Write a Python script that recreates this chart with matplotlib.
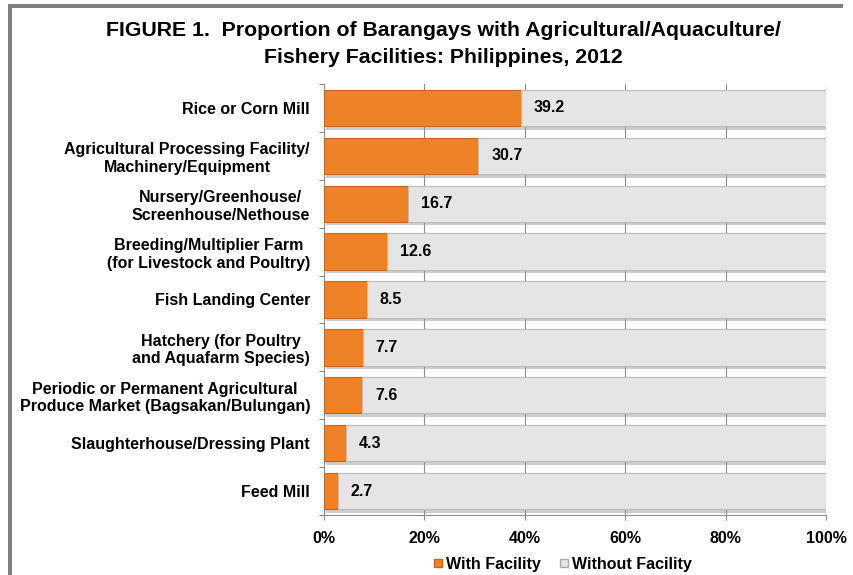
import numpy as np
import matplotlib
matplotlib.use('Agg')
import matplotlib.pyplot as plt
import matplotlib.patheffects as pe
from matplotlib.patches import Rectangle
from matplotlib.lines import Line2D

plt.rcParams['font.family'] = ['Liberation Sans', 'DejaVu Sans']
plt.rcParams['font.weight'] = 'bold'

categories = [
    'Rice or Corn Mill',
    'Agricultural Processing Facility/\nMachinery/Equipment',
    'Nursery/Greenhouse/\nScreenhouse/Nethouse',
    'Breeding/Multiplier Farm\n(for Livestock and Poultry)',
    'Fish Landing Center',
    'Hatchery (for Poultry\nand Aquafarm Species)',
    'Periodic or Permanent Agricultural\nProduce Market (Bagsakan/Bulungan)',
    'Slaughterhouse/Dressing Plant',
    'Feed Mill',
]
with_facility = [39.2, 30.7, 16.7, 12.6, 8.5, 7.7, 7.6, 4.3, 2.7]
without_facility = [100 - v for v in with_facility]
xticks = [0, 20, 40, 60, 80, 100]

orange = '#EE8226'
grey = '#E5E5E5'

fig = plt.figure(figsize=(8.54, 5.75), dpi=100)
W, H = 854, 575
ax = fig.add_axes([324 / W, 1 - 515 / H, 502 / W, 431 / H])

y = np.arange(len(categories))
shadow = [pe.SimplePatchShadow(offset=(1.5, -2.5), shadow_rgbFace='#9a9a9a', alpha=0.5), pe.Normal()]
b1 = ax.barh(y, with_facility, height=0.76, color=orange, edgecolor='#C9661A', lw=0.8,
             zorder=3, path_effects=shadow)
b2 = ax.barh(y, without_facility, left=with_facility, height=0.76, color=grey,
             edgecolor='#BDBDBD', lw=0.8, zorder=3, path_effects=shadow)

for yi, v in zip(y, with_facility):
    ax.text(v + 2.6, yi, f'{v:.1f}', va='center', ha='left', fontsize=11.5,
            fontweight='bold', zorder=5)

ax.set_ylim(len(categories) - 0.5, -0.5)
ax.set_xlim(0, 100)
ax.set_yticks(y)
ax.set_yticklabels(categories, fontsize=11.5, fontweight='bold', multialignment='center')
ax.set_yticks(np.arange(len(categories) + 1) - 0.5, minor=True)
ax.tick_params(axis='y', which='major', length=0, pad=10)
ax.tick_params(axis='y', which='minor', length=3.5, color='#888888', width=0.8)
ax.set_xticks(xticks)
ax.set_xticklabels([f'{t}%' for t in xticks], fontsize=11.5, fontweight='bold')
ax.tick_params(axis='x', length=3.5, color='#888888', width=0.8, pad=8)
ax.xaxis.grid(True, color='#8c8c8c', lw=0.8, zorder=0)
ax.set_axisbelow(True)
for s in ['top', 'right']:
    ax.spines[s].set_visible(False)
for s in ['left', 'bottom']:
    ax.spines[s].set_color('#8c8c8c')
    ax.spines[s].set_linewidth(0.8)

fig.text(443 / W, 1 - 44 / H,
         'FIGURE 1.  Proportion of Barangays with Agricultural/Aquaculture/\nFishery Facilities: Philippines, 2012',
         ha='center', va='center', fontsize=15.3, fontweight='bold', linespacing=1.5)

handles = [
    Line2D([], [], marker='s', ls='none', markersize=6, markerfacecolor=orange, markeredgecolor='#C9661A'),
    Line2D([], [], marker='s', ls='none', markersize=6, markerfacecolor=grey, markeredgecolor='#AAAAAA'),
]
fig.legend(handles, ['With Facility', 'Without Facility'], loc='center',
           bbox_to_anchor=(561 / W, 1 - 564 / H), ncol=2, frameon=False,
           prop={'weight': 'bold', 'size': 11.5}, handletextpad=0.0, columnspacing=1.0,
           handlelength=1.0)

# grey frame on left and top
fig.patches.append(Rectangle((8 / W, 0), 4 / W, 1 - 4 / H, transform=fig.transFigure,
                             color='#808080', lw=0))
fig.patches.append(Rectangle((8 / W, 1 - 8 / H), 835 / W, 4 / H, transform=fig.transFigure,
                             color='#808080', lw=0))

fig.savefig('out.png', dpi=100)
